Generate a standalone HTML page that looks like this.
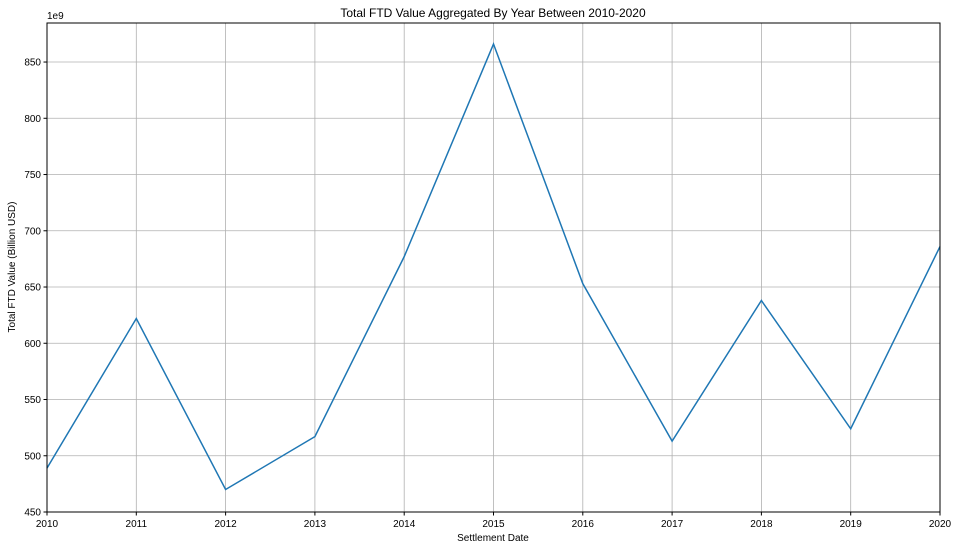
<!DOCTYPE html>
<html><head><meta charset="utf-8"><style>
body{margin:0;background:#fff;font-family:"Liberation Sans",sans-serif;}
svg text{font-family:"Liberation Sans",sans-serif;fill:#000;}
</style></head><body>
<svg width="960" height="550">
<rect width="960" height="550" fill="#fff"/>
<g id="grid"></g>
<g id="ticks"></g>
<polyline id="line" fill="none" stroke="#1f77b4" stroke-width="1.5"/>
<rect x="47" y="23" width="893" height="489" fill="none" stroke="#000" stroke-width="1"/>
<text x="493" y="17" font-size="12" text-anchor="middle">Total FTD Value Aggregated By Year Between 2010-2020</text>
<text x="493" y="541" font-size="10" text-anchor="middle">Settlement Date</text>
<text x="15" y="267" font-size="10" text-anchor="middle" transform="rotate(-90 15 267)">Total FTD Value (Billion USD)</text>
<text x="47" y="19" font-size="10">1e9</text>
</svg>
<script>
const years=[2010,2011,2012,2013,2014,2015,2016,2017,2018,2019,2020];
const values=[489,622,470,517,677,866,653,513,638,524,686];
const yTicks=[450,500,550,600,650,700,750,800,850];
const L=47,R=940,T=23,B=512,ymin=450,ymax=884.7;
const xs=v=>L+(v-2010)/(2020-2010)*(R-L);
const ys=v=>B-(v-ymin)/(ymax-ymin)*(B-T);
const ns="http://www.w3.org/2000/svg";
const grid=document.getElementById('grid'),ticks=document.getElementById('ticks');
function mk(tag,attrs,parent){const e=document.createElementNS(ns,tag);for(const k in attrs)e.setAttribute(k,attrs[k]);parent.appendChild(e);return e;}
years.forEach(y=>{
 const x=xs(y);
 const g=mk('line',{x1:x,x2:x,y1:T,y2:B,stroke:'#b0b0b0','stroke-width':0.8},grid);
 
 
 mk('line',{x1:x,x2:x,y1:B,y2:B+3.5,stroke:'#000'},ticks);
 const t=mk('text',{x:x,y:B+15,'font-size':10,'text-anchor':'middle'},ticks);
 t.textContent=y;
 
 
});
yTicks.forEach(v=>{
 const y=ys(v);
 const g=mk('line',{x1:L,x2:R,y1:y,y2:y,stroke:'#b0b0b0','stroke-width':0.8},grid);
 
 
 mk('line',{x1:L-3.5,x2:L,y1:y,y2:y,stroke:'#000'},ticks);
 const t=mk('text',{x:L-6,y:y+3.5,'font-size':10,'text-anchor':'end'},ticks);
 t.textContent=v;
 
 
});
document.getElementById('line').setAttribute('points',years.map((y,i)=>xs(y)+','+ys(values[i])).join(' '));
</script>
</body></html>
